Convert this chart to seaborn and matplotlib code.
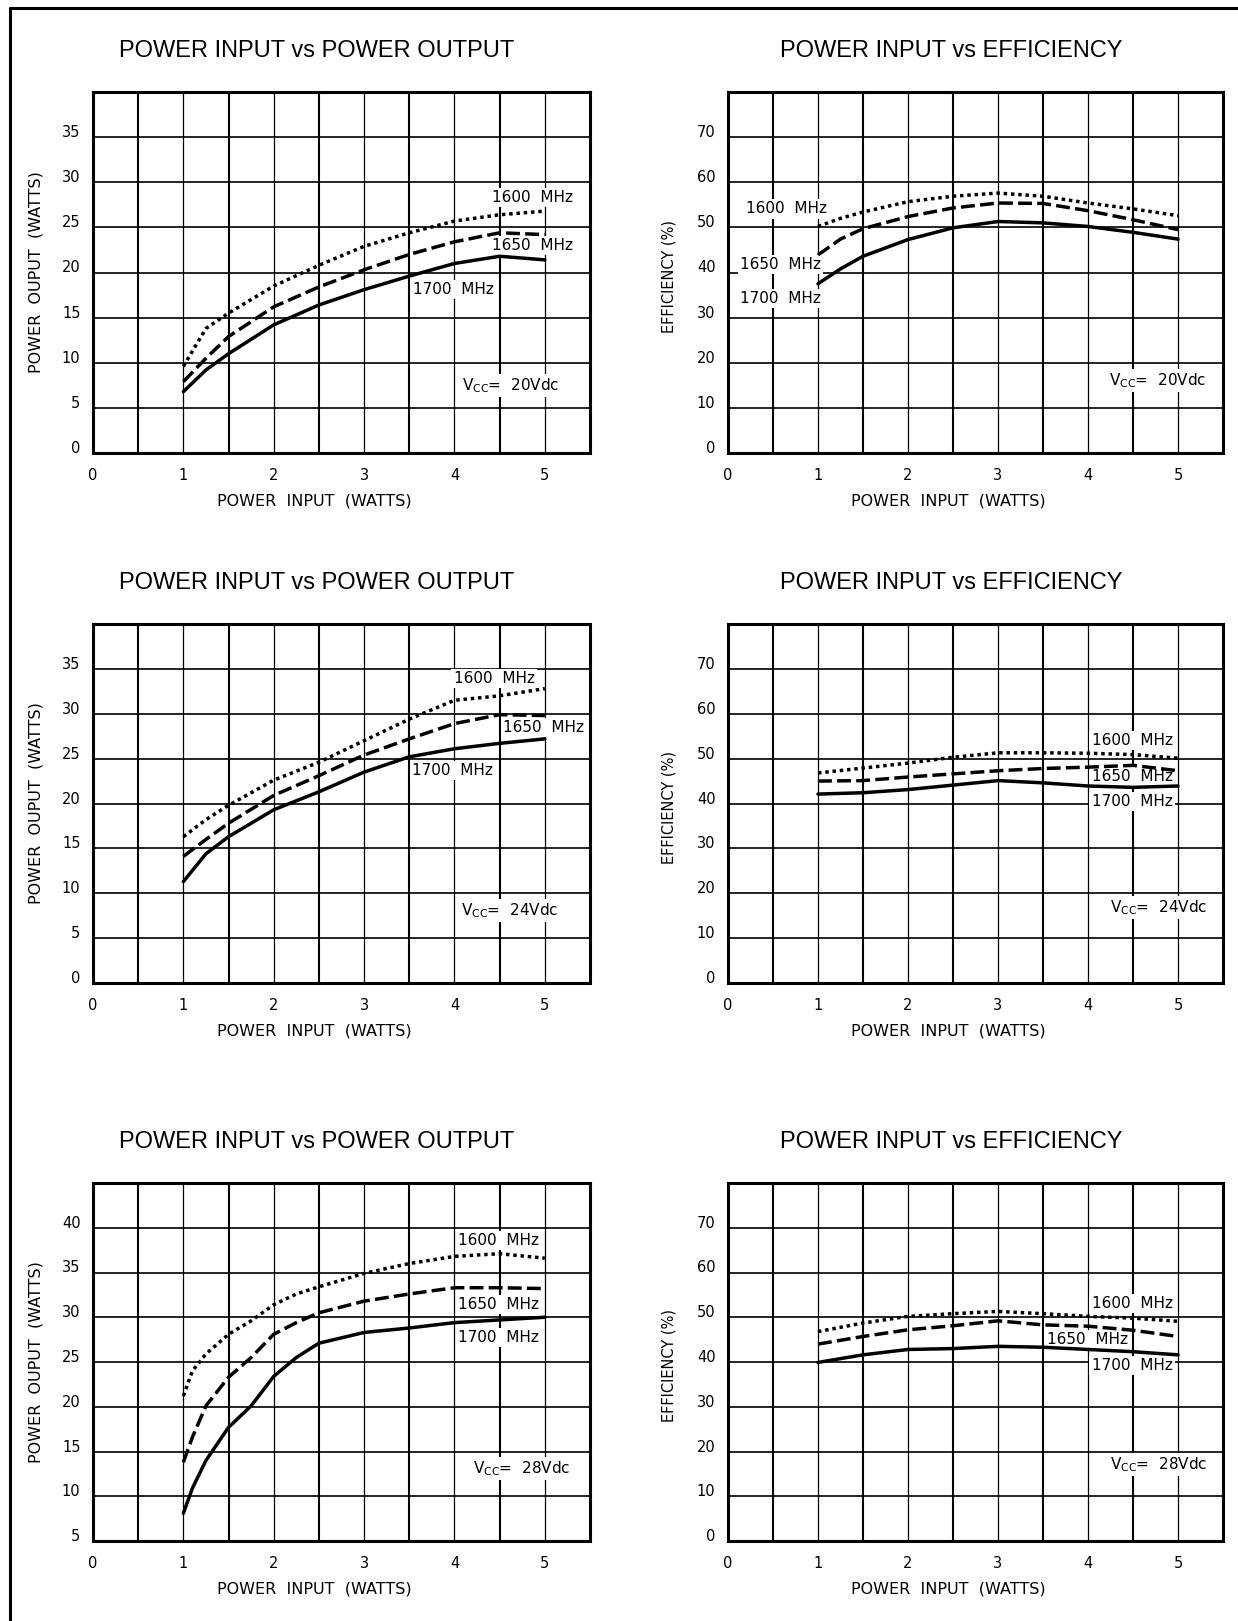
import numpy as np
import pandas as pd
import seaborn as sns
import matplotlib.pyplot as plt
from matplotlib.lines import Line2D

# power input points (watts)
PIN_A = [1, 1.25, 1.5, 2, 2.5, 3, 3.5, 4, 4.5, 5]
PIN_B = [1, 1.5, 2, 2.5, 3, 3.5, 4, 4.5, 5]
PIN_C = [1, 1.1, 1.25, 1.5, 1.75, 2, 2.25, 2.5, 3, 3.5, 4, 4.5, 5]

FREQS = ['1600 MHz', '1650 MHz', '1700 MHz']

# Vcc = 20 V
POUT_20_1600 = [9.6, 13.8, 15.5, 18.5, 20.8, 22.9, 24.4, 25.7, 26.4, 26.8]
POUT_20_1650 = [7.9, 10.5, 12.9, 16.2, 18.4, 20.3, 22.0, 23.4, 24.4, 24.2]
POUT_20_1700 = [6.8, 9.2, 11.0, 14.2, 16.4, 18.1, 19.6, 21.0, 21.8, 21.4]
EFF_20_1600 = [50.2, 52.0, 53.4, 55.7, 56.9, 57.6, 56.9, 55.4, 54.1, 52.6]
EFF_20_1650 = [43.9, 47.4, 49.7, 52.4, 54.3, 55.4, 55.3, 53.7, 51.7, 49.5]
EFF_20_1700 = [37.5, 40.8, 43.6, 47.3, 49.9, 51.3, 51.0, 50.2, 48.9, 47.4]

# Vcc = 24 V
POUT_24_1600 = [16.3, 18.2, 19.8, 22.6, 24.6, 27.0, 29.4, 31.5, 32.0, 32.8]
POUT_24_1650 = [14.1, 16.0, 17.8, 20.9, 23.1, 25.4, 27.2, 28.9, 29.9, 29.8]
POUT_24_1700 = [11.3, 14.4, 16.3, 19.3, 21.3, 23.5, 25.2, 26.1, 26.7, 27.2]
EFF_24_1600 = [46.8, 47.9, 49.0, 50.3, 51.3, 51.3, 51.2, 50.9, 50.1]
EFF_24_1650 = [45.0, 45.1, 45.9, 46.6, 47.3, 47.8, 48.1, 48.5, 47.3]
EFF_24_1700 = [42.1, 42.4, 43.1, 44.1, 45.1, 44.6, 43.9, 43.6, 43.9]

# Vcc = 28 V
POUT_28_1600 = [21.2, 24.0, 25.9, 28.1, 29.6, 31.4, 32.6, 33.4, 34.9, 36.0, 36.8, 37.1, 36.6]
POUT_28_1650 = [13.8, 16.6, 20.1, 23.3, 25.5, 28.1, 29.4, 30.5, 31.8, 32.6, 33.3, 33.3, 33.2]
POUT_28_1700 = [8.1, 10.9, 14.0, 17.7, 20.1, 23.4, 25.5, 27.1, 28.3, 28.8, 29.4, 29.7, 30.0]
EFF_28_1600 = [46.8, 48.7, 50.2, 50.8, 51.3, 50.8, 50.2, 49.8, 49.1]
EFF_28_1650 = [44.0, 45.7, 47.2, 48.1, 49.2, 48.3, 48.0, 47.1, 45.7]
EFF_28_1700 = [39.9, 41.6, 42.8, 43.0, 43.5, 43.3, 42.8, 42.3, 41.6]

VCC_LABELS = ['20Vdc', '24Vdc', '28Vdc']
X_TICKS = [0, 1, 2, 3, 4, 5]
POUT_TICKS = [0, 5, 10, 15, 20, 25, 30, 35]
POUT_TICKS_28 = [5, 10, 15, 20, 25, 30, 35, 40]
EFF_TICKS = [0, 10, 20, 30, 40, 50, 60, 70]

TITLE_POUT = 'POWER INPUT vs POWER OUTPUT'
TITLE_EFF = 'POWER INPUT vs EFFICIENCY'
XLABEL = 'POWER  INPUT  (WATTS)'
YLABEL_POUT = 'POWER  OUPUT  (WATTS)'
YLABEL_EFF = 'EFFICIENCY (%)'


def make_frame(xs, ys):
    rows = []
    for freq, x, y in zip(FREQS, xs, ys):
        for a, b in zip(x, y):
            rows.append((a, b, freq))
    return pd.DataFrame(rows, columns=['pin', 'val', 'freq'])


panels = [
    # (row, col, frame, yticks, ylim, label positions [1600,1650,1700,vcc], vcc text)
    (0, 0, make_frame([PIN_A] * 3, [POUT_20_1600, POUT_20_1650, POUT_20_1700]),
     POUT_TICKS, (0, 40), [(4.41, 28.3), (4.41, 23.0), (3.54, 18.1), (4.08, 7.5)], VCC_LABELS[0]),
    (0, 1, make_frame([PIN_A] * 3, [EFF_20_1600, EFF_20_1650, EFF_20_1700]),
     EFF_TICKS, (0, 80), [(0.2, 54.1), (0.13, 41.7), (0.13, 34.3), (4.23, 16.1)], VCC_LABELS[0]),
    (1, 0, make_frame([PIN_A] * 3, [POUT_24_1600, POUT_24_1650, POUT_24_1700]),
     POUT_TICKS, (0, 40), [(3.99, 33.9), (4.54, 28.5), (3.53, 23.7), (4.07, 8.1)], VCC_LABELS[1]),
    (1, 1, make_frame([PIN_B] * 3, [EFF_24_1600, EFF_24_1650, EFF_24_1700]),
     EFF_TICKS, (0, 80), [(4.04, 54.0), (4.04, 46.1), (4.04, 40.5), (4.24, 16.8)], VCC_LABELS[1]),
    (2, 0, make_frame([PIN_C] * 3, [POUT_28_1600, POUT_28_1650, POUT_28_1700]),
     POUT_TICKS_28, (5, 45), [(4.04, 38.6), (4.04, 31.4), (4.04, 27.7), (4.21, 13.1)], VCC_LABELS[2]),
    (2, 1, make_frame([PIN_B] * 3, [EFF_28_1600, EFF_28_1650, EFF_28_1700]),
     EFF_TICKS, (0, 80), [(4.04, 53.0), (3.54, 45.0), (4.04, 39.2), (4.24, 17.1)], VCC_LABELS[2]),
]

sns.set_theme(style='white')
plt.rcParams['font.family'] = ['DejaVu Sans']
plt.rcParams['mathtext.default'] = 'regular'

W, H = 1238, 1621
fig = plt.figure(figsize=(W / 100, H / 100), dpi=100)

# axes boxes in pixels: left, right for columns, top, bottom for rows
col_px = [(93, 590), (728, 1223)]
row_px = [(92, 453), (624, 983), (1183, 1541)]

dashes = {'1600 MHz': (1, 1.1), '1650 MHz': (4, 1.5), '1700 MHz': ''}

for row, col, df, yticks, ylim, label_pos, vcc in panels:
    l, r = col_px[col]
    t, b = row_px[row]
    ax = fig.add_axes([l / W, 1 - b / H, (r - l) / W, (b - t) / H])
    sns.lineplot(data=df, x='pin', y='val', hue='freq', style='freq',
                 palette=['black'] * 3, dashes=dashes, linewidth=2.5,
                 legend=False, ax=ax, zorder=4)

    ax.set_xlim(0, 5.5)
    ax.set_ylim(*ylim)
    ax.set_xticks(X_TICKS)
    ax.set_xticklabels([str(v) for v in X_TICKS])
    ax.set_xticks(np.arange(0.5, 5.0, 1.0), minor=True)
    ax.set_yticks(yticks)
    ax.set_yticklabels([str(v) for v in yticks])
    for lbl in ax.get_yticklabels():
        lbl.set_va('baseline')

    ax.set_axisbelow(True)
    ax.grid(which='major', axis='x', color='black', linewidth=0.9)
    ax.grid(which='minor', axis='x', color='black', linewidth=1.5)
    ax.grid(which='major', axis='y', color='black', linewidth=1.2)
    ax.tick_params(axis='both', which='both', length=0, labelsize=10.5, colors='black')
    ax.tick_params(axis='x', pad=11)
    ax.tick_params(axis='y', pad=9)
    for s in ax.spines.values():
        s.set_visible(True)
        s.set_color('black')
        s.set_linewidth(2.2)

    ax.set_xlabel(XLABEL, fontsize=11.5, color='black', va='center')
    ax.xaxis.set_label_coords(2.45 / 5.5, -48 / (b - t))
    if col == 0:
        ax.set_ylabel(YLABEL_POUT, fontsize=11.5, color='black', va='center')
        ax.yaxis.set_label_coords((36 - l) / (r - l), 0.5)
    else:
        ax.set_ylabel(YLABEL_EFF, fontsize=10.5, color='black', va='center')
        ax.yaxis.set_label_coords((669 - l) / (r - l), 0.49)

    title = TITLE_POUT if col == 0 else TITLE_EFF
    ax.annotate(title, xy=(2.48, 1), xycoords=('data', 'axes fraction'),
                xytext=(0, 29.5), textcoords='offset points', ha='center', va='center',
                fontsize=17, family=['Liberation Sans', 'DejaVu Sans'], color='black')

    box = dict(facecolor='white', edgecolor='none', pad=1.5)
    for freq, (px, py) in zip(FREQS, label_pos[:3]):
        ax.text(px, py, freq.replace(' ', '  '), fontsize=11, ha='left', va='center',
                bbox=box, zorder=3, color='black')
    vx, vy = label_pos[3]
    ax.text(vx, vy, r'V$_{CC}$=  ' + vcc, fontsize=11, ha='left', va='center',
            bbox=box, zorder=3, color='black')

# page frame (left and top edges of the scanned sheet)
fig.add_artist(Line2D([10 / W, 10 / W], [0, 1 - 8 / H], transform=fig.transFigure,
                      color='black', linewidth=2.2))
fig.add_artist(Line2D([10 / W, 1], [1 - 8 / H, 1 - 8 / H], transform=fig.transFigure,
                      color='black', linewidth=2.2))

fig.savefig('out.png', dpi=100)
